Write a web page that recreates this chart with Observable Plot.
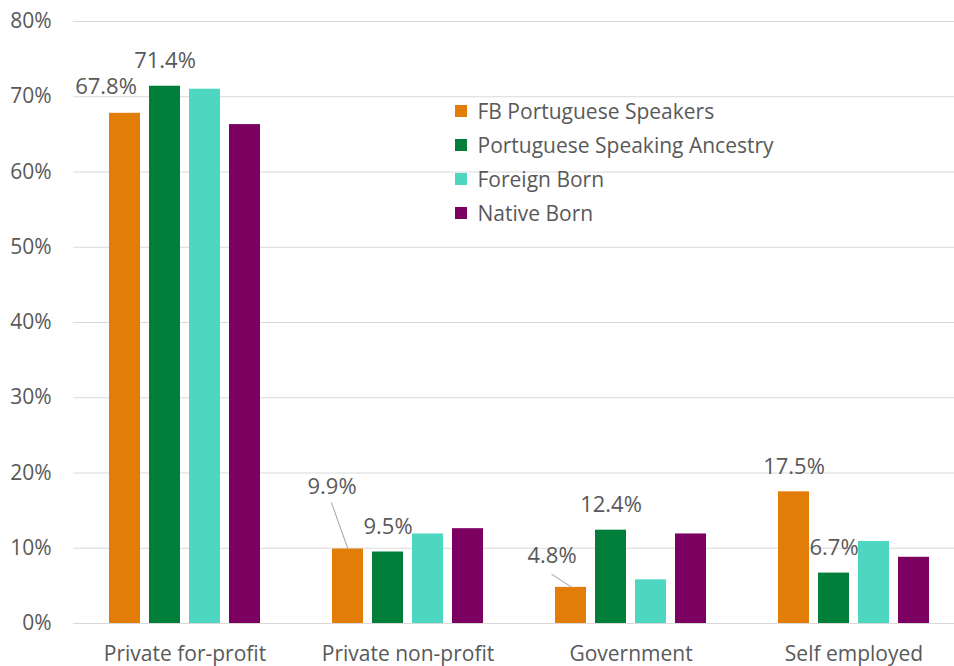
<!DOCTYPE html>
<html><head><meta charset="utf-8">
<script src="https://cdn.jsdelivr.net/npm/d3@7"></script>
<script src="https://cdn.jsdelivr.net/npm/@observablehq/plot@0.6"></script>
<style>
html,body{margin:0;padding:0;overflow:hidden;background:#fff;}
#wrap{position:relative;width:954px;height:666px;overflow:hidden;}
#chart svg{max-width:none !important;width:965px;height:666px;}
#legend{position:absolute;left:455px;top:94px;}
#legend .lg-swatch{height:34px;padding-bottom:0 !important;}
</style></head>
<body><div id="wrap"><div id="chart"></div><div id="legend"></div></div>
<script>
const categories = ["Private for-profit", "Private non-profit", "Government", "Self employed"];
const series = ["FB Portuguese Speakers", "Portuguese Speaking Ancestry", "Foreign Born", "Native Born"];
const fbPortuguese = [67.8, 9.9, 4.8, 17.5];
const ptAncestry = [71.4, 9.5, 12.4, 6.7];
const foreignBorn = [71.0, 11.9, 5.8, 10.9];
const nativeBorn = [66.3, 12.6, 11.9, 8.8];
const yTicks = [0, 10, 20, 30, 40, 50, 60, 70, 80];
const labeledSeries = ["FB Portuguese Speakers", "Portuguese Speaking Ancestry"];

const colors = ["#E27D08", "#007E3A", "#4DD7C1", "#7B0060"];
const textColor = "#595959";
const font = "Open Sans";

const valuesBySeries = [fbPortuguese, ptAncestry, foreignBorn, nativeBorn];
const data = [];
categories.forEach((c, i) => series.forEach((s, j) => data.push({category: c, series: s, value: valuesBySeries[j][i]})));
const labeled = data.filter(d => labeledSeries.includes(d.series));
const fmt = v => d3.format(".1f")(v) + "%";

// label placement nudges (styling, keyed by category|series)
const nudges = {
  "Private for-profit|FB Portuguese Speakers": {dx: -19, dy: -26},
  "Private non-profit|FB Portuguese Speakers": {dx: -16, dy: -62, leader: {dx: 0, length: 49, rotate: -19.7}},
  "Government|FB Portuguese Speakers": {dx: -19, dy: -31, leader: {dx: 1, length: 24, rotate: -57}}
};
const key = d => d.category + "|" + d.series;

const labelMarks = labeled.map(d => {
  const n = nudges[key(d)] || {dx: 0, dy: -25};
  return Plot.text([d], {fx: "category", x: "series", y: "value", text: d => fmt(d.value),
    dx: n.dx, dy: n.dy, fill: textColor, fontSize: 22, fontFamily: font});
});
const leaderMarks = labeled.filter(d => nudges[key(d)] && nudges[key(d)].leader).map(d => {
  const l = nudges[key(d)].leader;
  return Plot.vector([d], {fx: "category", x: "series", y: "value", anchor: "start",
    length: l.length, rotate: l.rotate, dx: l.dx, r: 0, stroke: "#a6a6a6", strokeWidth: 1});
});

const chart = Plot.plot({
  width: 965, height: 666,
  marginLeft: 72, marginRight: 0, marginTop: 21, marginBottom: 43,
  style: {fontFamily: font, fontSize: "21px", color: textColor, background: "#fff"},
  fx: {domain: categories, padding: 0, label: null, tickSize: 0, tickPadding: 23},
  x: {domain: series, axis: null, paddingInner: 0.225, paddingOuter: 0.9},
  y: {domain: [0, 80], ticks: yTicks, tickFormat: d => d + "%", tickSize: 0, tickPadding: 22, label: null},
  color: {domain: series, range: colors},
  marks: [
    Plot.gridY(yTicks, {stroke: "#d9d9d9", strokeOpacity: 1}),
    Plot.barY(data, {fx: "category", x: "series", y: "value", fill: "series"}),
    ...leaderMarks,
    ...labelMarks
  ]
});
document.getElementById("chart").appendChild(chart);
const legend = chart.legend("color", {columns: 1, swatchSize: 12, className: "lg",
  style: {fontFamily: font, fontSize: "21px", color: textColor}});
document.getElementById("legend").appendChild(legend);
</script>
</body></html>
